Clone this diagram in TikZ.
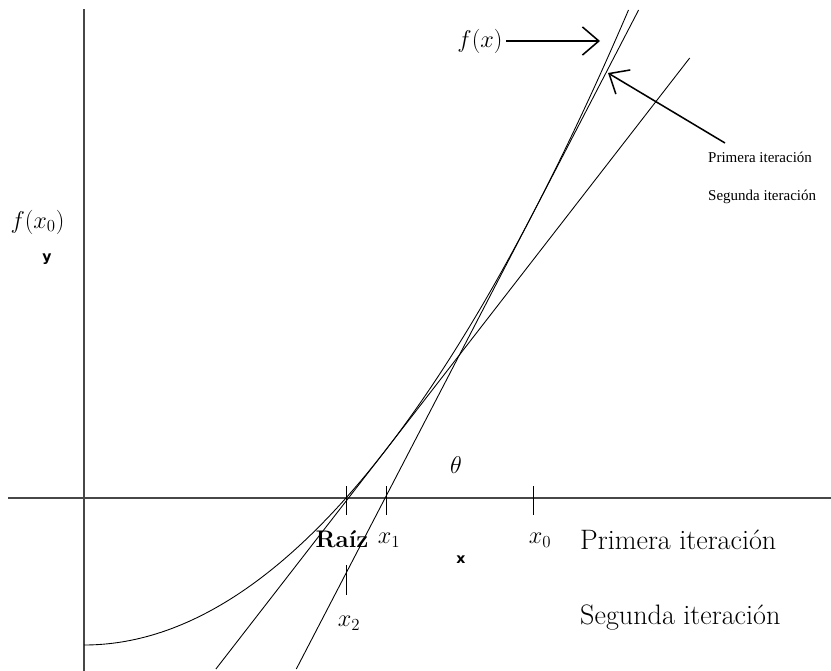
\documentclass[tikz,border=0pt]{standalone}
\usepackage{fontspec}
\usetikzlibrary{arrows.meta}
\newfontfamily\smallserif{Liberation Serif}
\newfontfamily\boldsans{DejaVu Sans}
\begin{document}
\begin{tikzpicture}[x=0.03cm,y=-0.03cm,
  axis/.style={draw=black!72,line width=1.4pt},
  thinline/.style={draw=black,line width=0.75pt},
  tickmark/.style={draw=black,line width=0.75pt},
  pointer/.style={draw=black,line width=1.3pt,-{Straight Barb[length=14pt,width=24pt,line width=1.3pt]}},
  biglabel/.style={inner sep=0pt,font=\fontsize{22.5}{27}\selectfont},
  bigtext/.style={inner sep=0pt,anchor=west,font=\fontsize{24}{28}\selectfont},
  smalllabel/.style={inner sep=0pt,anchor=west,font=\smallserif\fontsize{12.8}{15}\selectfont},
  axlabel/.style={inner sep=0pt,font=\boldsans\bfseries\fontsize{12}{14}\selectfont}
]
\useasboundingbox (0,0) rectangle (831,671);
% axes
\coordinate (vtop) at (84,9);
\coordinate (vbot) at (84,671);
\coordinate (hleft) at (8,498);
\coordinate (hright) at (831,498);
\draw[axis] (vtop) -- (vbot);
\draw[axis] (hleft) -- (hright);
% curve f(x)
\coordinate (cstart) at (84,645);
\coordinate (cend) at (628.5,10);
\draw[thinline] (cstart) .. controls (265.5,645) and (447,433.3) .. (cend);
% tangent at x0
\coordinate (t1a) at (296.3,669);
\coordinate (t1b) at (638.6,10);
\draw[thinline] (t1a) -- (t1b);
% tangent at x1
\coordinate (t2a) at (215.9,669);
\coordinate (t2b) at (689.7,58);
\draw[thinline] (t2a) -- (t2b);
% ticks
\coordinate (rA) at (346,486); \coordinate (rB) at (346,515);
\coordinate (aA) at (386,486); \coordinate (aB) at (386,515);
\coordinate (bA) at (533,486); \coordinate (bB) at (533,515);
\coordinate (cA) at (346,565); \coordinate (cB) at (346,595);
\draw[tickmark] (rA) -- (rB);
\draw[tickmark] (aA) -- (aB);
\draw[tickmark] (bA) -- (bB);
\draw[tickmark] (cA) -- (cB);
% labels
\node[biglabel] (fxl) at (480,41) {$f(x)$};
\coordinate (fxtip) at (600,41);
\draw[pointer] ([xshift=3pt]fxl.east) -- (fxtip);
\coordinate (ptail) at (725,143);
\coordinate (ptip) at (608,73);
\draw[pointer] (ptail) -- (ptip);
\node[smalllabel] (p1s) at (708,157) {Primera iteración};
\node[smalllabel] (s1s) at (708,197) {Segunda iteración};
\node[biglabel] (fx0) at (37.5,222) {$f(x_0)$};
\node[axlabel] (ylab) at (47,259) {y};
\node[axlabel] (xlab) at (461,560) {x};
\node[biglabel] (theta) at (456,465) {$\theta$};
\node[biglabel,font=\bfseries\fontsize{20.5}{24}\selectfont] (raiz) at (342,539) {Raíz};
\node[biglabel] (x1l) at (389,540) {$x_1$};
\node[biglabel] (x0l) at (540,540) {$x_0$};
\node[biglabel] (x2l) at (349,623) {$x_2$};
\node[bigtext] (p1b) at (580,540) {Primera iteración};
\node[bigtext] (s1b) at (580,618) {Segunda iteración};
\end{tikzpicture}
\end{document}
